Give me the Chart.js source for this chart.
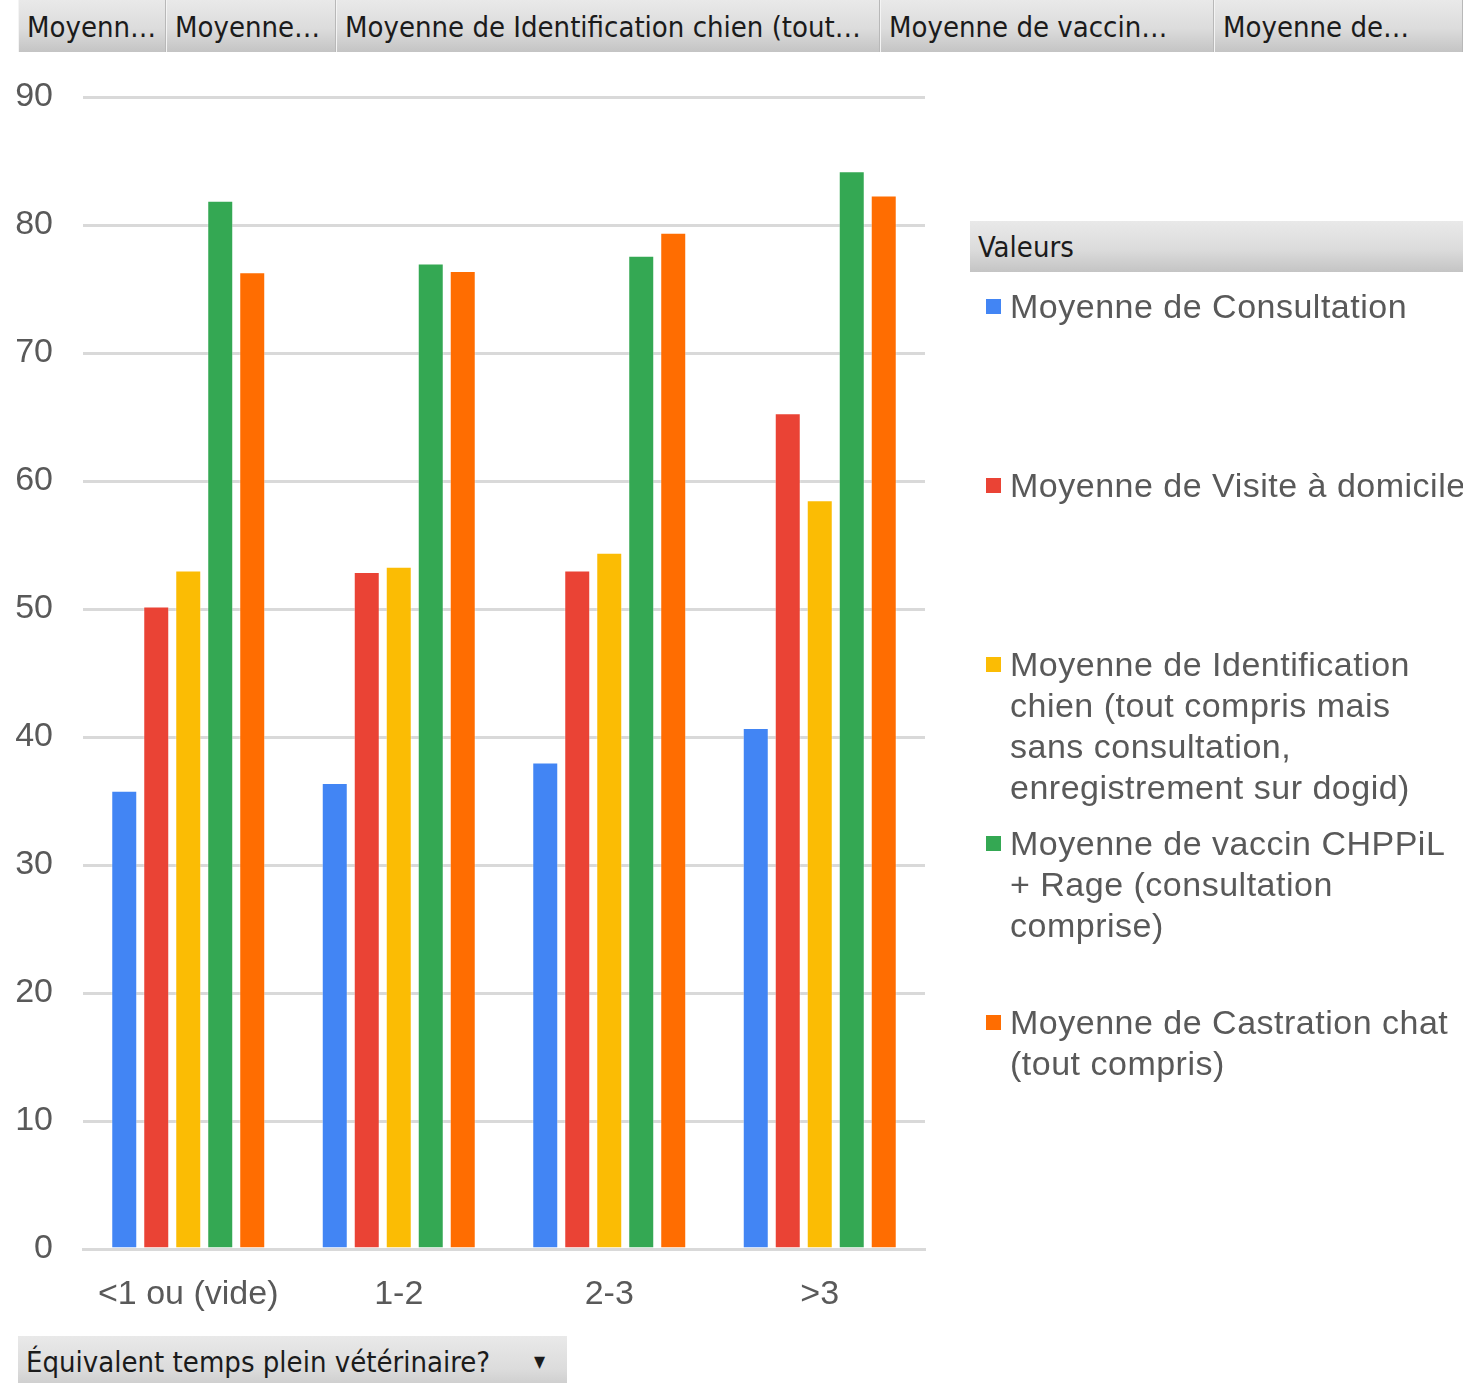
<!DOCTYPE html>
<html>
<head>
<meta charset="utf-8">
<script src="https://cdn.jsdelivr.net/npm/chart.js@4.4.1/dist/chart.umd.min.js"></script>
<style>
  html, body { margin:0; padding:0; background:#fff; }
  body { width:1463px; height:1383px; position:relative; overflow:hidden; }
  #c { position:absolute; left:0; top:0; }
  .btn { position:absolute; top:0; height:52px; box-sizing:border-box;
    background:linear-gradient(#e9e9e9 0%, #dcdcdc 55%, #c4c4c4 100%);
    border-left:1px solid #f4f4f4; border-right:1px solid #b8b8b8;
    font-family:"DejaVu Sans Condensed","DejaVu Sans",sans-serif; font-size:29px; color:#1b1b1b;
    line-height:54px; padding-left:8px; white-space:nowrap; overflow:hidden; }
  #hdr { position:absolute; left:970px; top:221px; width:493px; height:51px; box-sizing:border-box;
    background:linear-gradient(#e9e9e9 0%, #dcdcdc 55%, #c4c4c4 100%);
    font-family:"DejaVu Sans Condensed","DejaVu Sans",sans-serif; font-size:29px; color:#1b1b1b;
    line-height:52px; padding-left:8px; }
  #bottom { position:absolute; left:18px; top:1336px; width:549px; height:60px; box-sizing:border-box;
    background:linear-gradient(#e9e9e9 0%, #dcdcdc 55%, #c4c4c4 100%);
    font-family:"DejaVu Sans Condensed","DejaVu Sans",sans-serif; font-size:29px; color:#1b1b1b;
    line-height:52px; padding-left:8px; white-space:nowrap; }
  #bottom .arr { position:absolute; left:516px; top:0; font-size:16px; }
  .li { position:absolute; left:986px; white-space:nowrap;
    font-family:"Liberation Sans",Arial,sans-serif; font-size:34px; color:#595959; line-height:41px; }
  .li .sq { position:absolute; left:0; top:13px; width:15px; height:15px; }
  .li .tx { position:absolute; left:24px; top:0; letter-spacing:0.5px; }
</style>
</head>
<body>
<canvas id="c" width="1463" height="1383" style="width:1463px;height:1383px"></canvas>
<div id="overlay"></div>
<script>
// ---- data ----
const categories = ["<1 ou (vide)", "1-2", "2-3", ">3"];
const seriesNames = [
  ["Moyenne de Consultation"],
  ["Moyenne de Visite à domicile"],
  ["Moyenne de Identification", "chien (tout compris mais", "sans consultation,", "enregistrement sur dogid)"],
  ["Moyenne de vaccin CHPPiL", "+ Rage (consultation", "comprise)"],
  ["Moyenne de Castration chat", "(tout compris)"]
];
const consultation = [35.8, 36.4, 38.0, 40.7];
const visiteDomicile = [50.2, 52.9, 53.0, 65.3];
const identificationChien = [53.0, 53.3, 54.4, 58.5];
const vaccinChppil = [81.9, 77.0, 77.6, 84.2];
const castrationChat = [76.3, 76.4, 79.4, 82.3];
const seriesValues = [consultation, visiteDomicile, identificationChien, vaccinChppil, castrationChat];
const seriesColors = ["#4285F4", "#EA4335", "#FBBC04", "#34A853", "#FF6D01"];
const yTicks = [0, 10, 20, 30, 40, 50, 60, 70, 80, 90];
const fieldButtons = ["Moyenn…", "Moyenne…", "Moyenne de Identification chien (tout…", "Moyenne de vaccin…", "Moyenne de…"];
const legendTitle = "Valeurs";
const rowField = "Équivalent temps plein vétérinaire?";

// ---- overlays (pivot field buttons + legend) ----
const ov = document.getElementById('overlay');
const btnEdges = [18, 166, 336, 880, 1214, 1463];
fieldButtons.forEach((t, i) => {
  const d = document.createElement('div');
  d.className = 'btn';
  d.style.left = btnEdges[i] + 'px';
  d.style.width = (btnEdges[i+1] - btnEdges[i]) + 'px';
  d.textContent = t;
  ov.appendChild(d);
});
const hdr = document.createElement('div'); hdr.id = 'hdr'; hdr.textContent = legendTitle; ov.appendChild(hdr);
const bot = document.createElement('div'); bot.id = 'bottom'; bot.textContent = rowField;
const arr = document.createElement('span'); arr.className = 'arr'; arr.textContent = '▼'; bot.appendChild(arr);
ov.appendChild(bot);
seriesNames.forEach((lines, i) => {
  const li = document.createElement('div');
  li.className = 'li';
  li.style.top = (306 + 179 * i - 20) + 'px';
  const sq = document.createElement('div'); sq.className = 'sq'; sq.style.background = seriesColors[i];
  const tx = document.createElement('div'); tx.className = 'tx';
  tx.innerHTML = lines.map(s => s.replace(/&/g,'&amp;').replace(/</g,'&lt;')).join('<br>');
  li.appendChild(sq); li.appendChild(tx);
  ov.appendChild(li);
});

// ---- chart ----
const gridColor = '#d9d9d9';
new Chart(document.getElementById('c'), {
  type: 'bar',
  data: {
    labels: categories,
    datasets: seriesValues.map((vals, i) => ({
      label: seriesNames[i].join(' '),
      data: vals,
      backgroundColor: seriesColors[i],
      borderColor: 'rgba(255,255,255,0.35)',
      borderWidth: 1,
      categoryPercentage: 0.76,
      barPercentage: 0.8125
    }))
  },
  options: {
    responsive: false,
    animation: false,
    devicePixelRatio: 1,
    layout: { padding: { left: 0, top: 97, right: 538, bottom: 0 } },
    plugins: { legend: { display: false }, tooltip: { enabled: false } },
    scales: {
      x: {
        grid: { display: false, drawTicks: false },
        border: { display: true, color: gridColor, width: 3 },
        ticks: { color: '#595959', font: { family: 'Liberation Sans', size: 34 }, padding: 25 },
        afterFit: (s) => { s.height = 134; }
      },
      y: {
        min: 0, max: 90,
        afterBuildTicks: (s) => { s.ticks = yTicks.map(v => ({ value: v })); },
        grid: { color: gridColor, lineWidth: 3, drawTicks: false },
        border: { display: false },
        ticks: { color: '#595959', font: { family: 'Liberation Sans', size: 34 }, padding: 30 },
        afterFit: (s) => { s.width = 83; }
      }
    }
  }
});
</script>
</body>
</html>
